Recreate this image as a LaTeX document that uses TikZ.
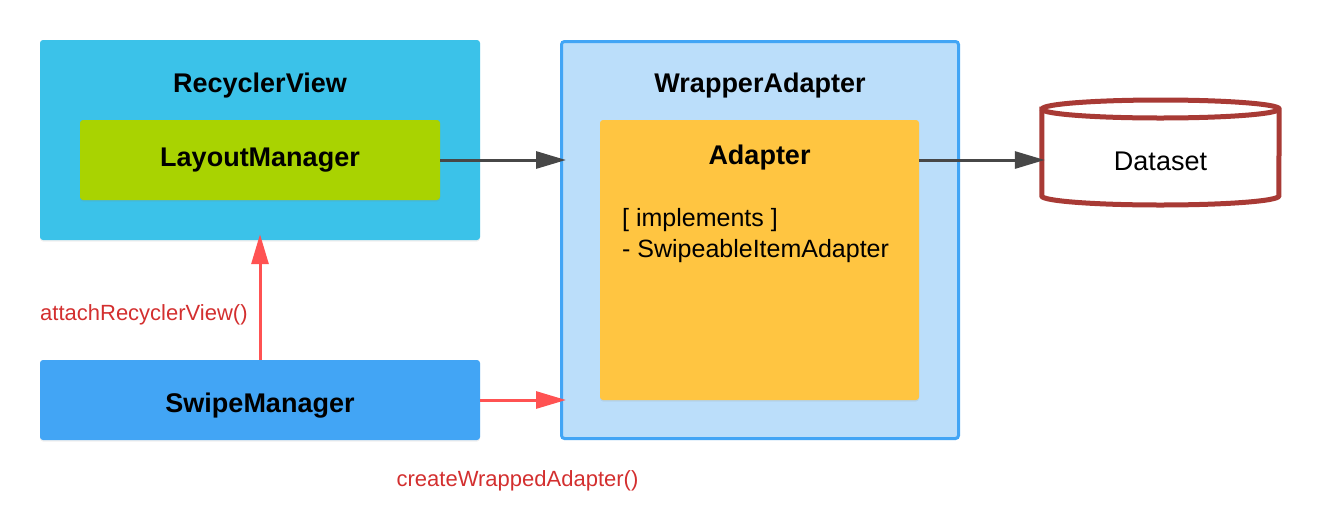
\documentclass[tikz,border=0pt]{standalone}
\usepackage{fontspec}
\setmainfont{Liberation Sans}
\usetikzlibrary{arrows.meta,shadows}
\definecolor{rvblue}{HTML}{3BC2E9}
\definecolor{lmgreen}{HTML}{A9D301}
\definecolor{wafill}{HTML}{BBDEFA}
\definecolor{waline}{HTML}{42A5F5}
\definecolor{adyellow}{HTML}{FFC541}
\definecolor{smblue}{HTML}{42A5F5}
\definecolor{darkarrow}{HTML}{474747}
\definecolor{redarrow}{HTML}{FF5252}
\definecolor{redtext}{HTML}{D32F2F}
\definecolor{cylred}{HTML}{A83A35}
\tikzset{
  box/.style={rectangle, rounded corners=3pt, inner sep=0pt, draw=none,
    drop shadow={opacity=0.12, shadow xshift=0pt, shadow yshift=-1.5pt}},
  title/.style={font=\fontsize{27}{32}\selectfont\bfseries, inner sep=0pt, anchor=base},
  body/.style={font=\fontsize{25}{31}\selectfont, inner sep=0pt, align=left},
  redlabel/.style={font=\fontsize{22}{26}\selectfont, text=redtext, inner sep=0pt},
  darkarr/.style={draw=darkarrow, line width=3pt, -{Triangle[length=30pt,width=17pt]}},
  redarr/.style={draw=redarrow, line width=3pt, -{Triangle[length=30pt,width=17pt]}},
}
\begin{document}
\begin{tikzpicture}[x=1pt,y=-1pt]
\useasboundingbox (0,0) rectangle (1320,520);
% boxes
\node[box, fill=rvblue, minimum width=440pt, minimum height=200pt] (rv) at (260,140) {};
\node[title] (rvt) at (260,92) {RecyclerView};
\node[box, fill=lmgreen, minimum width=360pt, minimum height=80pt] (lm) at (260,160) {};
\node[title] (lmt) at (260,166) {LayoutManager};
\node[box, fill=wafill, draw=waline, line width=3pt, minimum width=397pt, minimum height=397pt] (wa) at (760,240) {};
\node[title] (wat) at (760,92) {WrapperAdapter};
\node[box, fill=adyellow, minimum width=319pt, minimum height=280pt] (ad) at (759.5,260) {};
\node[title] (adt) at (759.5,164.5) {Adapter};
\node[body, anchor=base west] (impl) at (622,257) {[ implements ]\\- SwipeableItemAdapter};
\node[box, fill=smblue, minimum width=440pt, minimum height=80pt] (sm) at (260,400) {};
\node[title] (smt) at (260,412) {SwipeManager};
% dataset cylinder
\node[inner sep=0pt, minimum width=237pt, minimum height=96pt] (ds) at (1160.5,157) {};
\draw[cylred, line width=5pt, fill=white]
  (ds.west |- 0,109) -- (ds.west |- 0,196)
  arc[start angle=180, end angle=360, x radius=118.5pt, y radius=9pt]
  -- (ds.east |- 0,109)
  arc[start angle=0, end angle=180, x radius=118.5pt, y radius=9pt] -- cycle;
\draw[cylred, line width=5pt] (ds.west |- 0,109)
  arc[start angle=180, end angle=360, x radius=118.5pt, y radius=9pt];
\node[inner sep=0pt, anchor=base, font=\fontsize{27}{32}\selectfont] (dst) at (1160.5,170) {Dataset};
% connectors
\draw[darkarr, shorten >=-6pt] (lm.east) -- (lm.east -| wa.west);
\draw[darkarr, shorten >=-3pt] (ad.east |- lm.east) -- (lm.east -| ds.west);
\draw[redarr, shorten >=-6pt] (sm.north) -- (rv.south);
\draw[redarr, shorten >=-6pt] (sm.east) -- (sm.east -| wa.west);
% labels
\node[redlabel, anchor=base west] (attach) at (40,320) {attachRecyclerView()};
\node[redlabel, anchor=base] (create) at (517.5,486) {createWrappedAdapter()};
\end{tikzpicture}
\end{document}
